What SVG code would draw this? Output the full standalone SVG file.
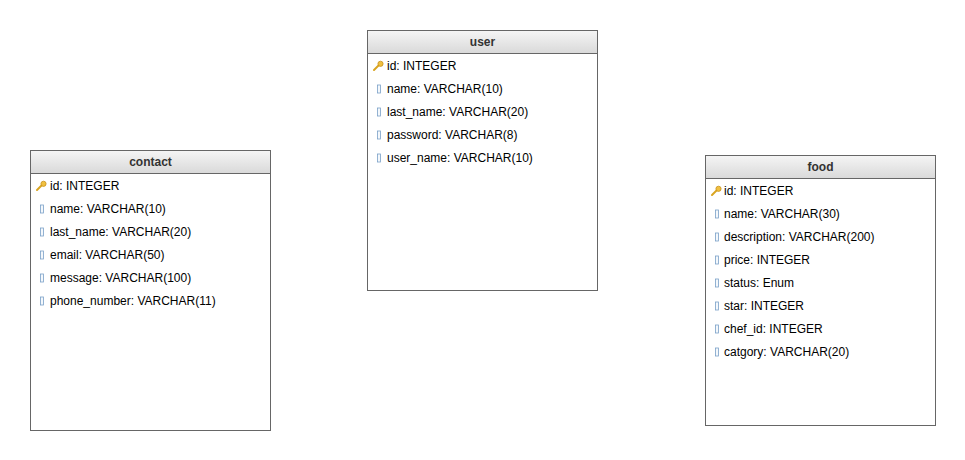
<svg xmlns="http://www.w3.org/2000/svg" width="965" height="460" viewBox="0 0 965 460">
<defs>
<linearGradient id="hdr" x1="0" y1="0" x2="0" y2="1">
<stop offset="0" stop-color="#f5f5f5"/>
<stop offset="1" stop-color="#d9d9d9"/>
</linearGradient>
<g id="key">
<path d="M0,9 L5,4" stroke="#d9a520" stroke-width="2" stroke-linecap="round" fill="none"/>
<circle cx="6.5" cy="2.8" r="2.6" fill="#f0c040" stroke="#c8901a" stroke-width="0.8"/>
</g>
<rect id="col" x="0" y="0" width="3" height="8" fill="#f4f8fc" stroke="#7aa0c8" stroke-width="0.8"/>
</defs>
<style>
.box{fill:#ffffff;stroke:#666666;stroke-width:1}
.hd{fill:url(#hdr);stroke:#666666;stroke-width:1}
.t{font-family:"Liberation Sans",Arial,sans-serif;font-size:12px;fill:#000000}
.h{font-family:"Liberation Sans",Arial,sans-serif;font-size:12px;font-weight:bold;fill:#333333;text-anchor:middle}
</style>
<rect width="965" height="460" fill="#ffffff"/>
<g id="connectors"></g>
<g id="user">
<rect class="box" x="367.5" y="30.5" width="230" height="260"/>
<rect class="hd" x="367.5" y="30.5" width="230" height="23"/>
<text class="h" x="482.5" y="46">user</text>
<use href="#key" x="374" y="61"/>
<text class="t" x="387" y="70">id: INTEGER</text>
<use href="#col" x="377.5" y="85"/>
<text class="t" x="387" y="93">name: VARCHAR(10)</text>
<use href="#col" x="377.5" y="108"/>
<text class="t" x="387" y="116">last_name: VARCHAR(20)</text>
<use href="#col" x="377.5" y="131"/>
<text class="t" x="387" y="139">password: VARCHAR(8)</text>
<use href="#col" x="377.5" y="154"/>
<text class="t" x="387" y="162">user_name: VARCHAR(10)</text>
</g>
<g id="contact">
<rect class="box" x="30.5" y="150.5" width="240" height="280"/>
<rect class="hd" x="30.5" y="150.5" width="240" height="23"/>
<text class="h" x="150.5" y="166">contact</text>
<use href="#key" x="37" y="181"/>
<text class="t" x="50" y="190">id: INTEGER</text>
<use href="#col" x="40.5" y="205"/>
<text class="t" x="50" y="213">name: VARCHAR(10)</text>
<use href="#col" x="40.5" y="228"/>
<text class="t" x="50" y="236">last_name: VARCHAR(20)</text>
<use href="#col" x="40.5" y="251"/>
<text class="t" x="50" y="259">email: VARCHAR(50)</text>
<use href="#col" x="40.5" y="274"/>
<text class="t" x="50" y="282">message: VARCHAR(100)</text>
<use href="#col" x="40.5" y="297"/>
<text class="t" x="50" y="305">phone_number: VARCHAR(11)</text>
</g>
<g id="food">
<rect class="box" x="705.5" y="155.5" width="230" height="270"/>
<rect class="hd" x="705.5" y="155.5" width="230" height="23"/>
<text class="h" x="820.5" y="171">food</text>
<use href="#key" x="712" y="186"/>
<text class="t" x="724" y="195">id: INTEGER</text>
<use href="#col" x="715.5" y="210"/>
<text class="t" x="724" y="218">name: VARCHAR(30)</text>
<use href="#col" x="715.5" y="233"/>
<text class="t" x="724" y="241">description: VARCHAR(200)</text>
<use href="#col" x="715.5" y="256"/>
<text class="t" x="724" y="264">price: INTEGER</text>
<use href="#col" x="715.5" y="279"/>
<text class="t" x="724" y="287">status: Enum</text>
<use href="#col" x="715.5" y="302"/>
<text class="t" x="724" y="310">star: INTEGER</text>
<use href="#col" x="715.5" y="325"/>
<text class="t" x="724" y="333">chef_id: INTEGER</text>
<use href="#col" x="715.5" y="348"/>
<text class="t" x="724" y="356">catgory: VARCHAR(20)</text>
</g>
</svg>
